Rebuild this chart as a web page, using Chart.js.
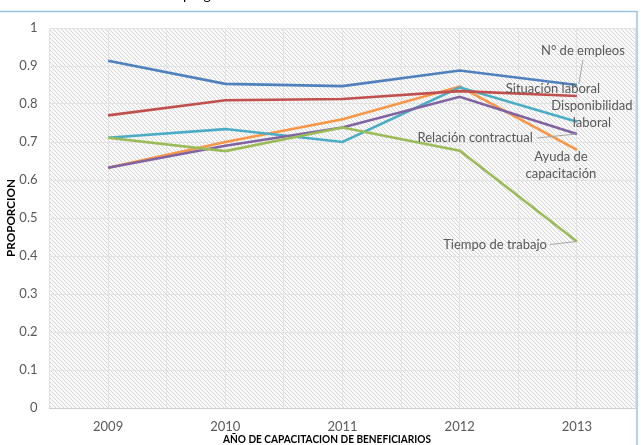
<!DOCTYPE html>
<html>
<head>
<meta charset="utf-8">
<script src="https://cdn.jsdelivr.net/npm/chart.js"></script>
<style>
  html, body { margin: 0; padding: 0; background: #fff; }
  #wrap { position: relative; width: 641px; height: 445px; }
</style>
</head>
<body>
<div id="wrap"><canvas id="chart" width="641" height="445"></canvas></div>
<script>
// Data
const years = ['2009', '2010', '2011', '2012', '2013'];
const empleos = [0.914, 0.853, 0.847, 0.888, 0.85];
const situacion = [0.77, 0.81, 0.813, 0.834, 0.821];
const tiempo = [0.711, 0.676, 0.738, 0.677, 0.438];
const relacion = [0.632, 0.69, 0.738, 0.819, 0.721];
const disponibilidad = [0.711, 0.734, 0.70, 0.844, 0.753];
const ayuda = [0.632, 0.70, 0.76, 0.846, 0.679];
const yTicks = [0, 0.1, 0.2, 0.3, 0.4, 0.5, 0.6, 0.7, 0.8, 0.9, 1];

const FONT = 'Lato, "Open Sans", sans-serif';
const TEXT = '#595959';

// label placement near the 2013 point (offsets in px)
const labelSpecs = {
  'N° de empleos': { lines: ['N° de empleos'], dx: 6, dy: -34, align: 'center', leader: [[6, -25], [2, -1]] },
  'Situación laboral': { lines: ['Situación laboral'], dx: -24, dy: -7, align: 'center' },
  'Disponibilidad laboral': { lines: ['Disponibilidad', 'laboral'], dx: 15, dy: -16, align: 'center' },
  'Relación contractual': { lines: ['Relación contractual'], dx: -44, dy: 4, align: 'right', leader: [[-40, 4], [-1, 0]] },
  'Ayuda de capacitación': { lines: ['Ayuda de', 'capacitación'], dx: -16, dy: 7, align: 'center' },
  'Tiempo de trabajo': { lines: ['Tiempo de trabajo'], dx: -30, dy: 3, align: 'right', leader: [[-27, 3], [-1, 0]] }
};

function hatchPattern(ctx) {
  const c = document.createElement('canvas');
  c.width = 4; c.height = 4;
  const g = c.getContext('2d');
  const img = g.createImageData(4, 4);
  for (let y = 0; y < 4; y++) {
    for (let x = 0; x < 4; x++) {
      const i = (y * 4 + x) * 4;
      const on = ((x - y + 4) % 4) === 0;
      const v = on ? 212 : 250;
      img.data[i] = v; img.data[i + 1] = v; img.data[i + 2] = v; img.data[i + 3] = 255;
    }
  }
  g.putImageData(img, 0, 0);
  return ctx.createPattern(c, 'repeat');
}

const backgroundPlugin = {
  id: 'hatchBg',
  beforeDraw(chart) {
    const { ctx, chartArea: a } = chart;
    ctx.save();
    ctx.fillStyle = '#fff';
    ctx.fillRect(0, 0, chart.width, chart.height);
    ctx.fillStyle = hatchPattern(ctx);
    ctx.fillRect(a.left, a.top, a.right - a.left, a.bottom - a.top);
    // outer chart frame (cropped on left and bottom)
    ctx.strokeStyle = '#9dc3e6';
    ctx.lineWidth = 1.5;
    ctx.strokeRect(-5, 11.5, 642, 450);
    // title remnant cut by the top of the picture
    ctx.fillStyle = '#000';
    ctx.font = '14px ' + FONT;
    ctx.textBaseline = 'alphabetic';
    ctx.textAlign = 'left';
    ctx.fillText('programa', 183, 0);
    ctx.restore();
  }
};

const labelsPlugin = {
  id: 'endLabels',
  afterDatasetsDraw(chart) {
    const { ctx } = chart;
    ctx.save();
    chart.data.datasets.forEach((ds, i) => {
      const spec = labelSpecs[ds.label];
      if (!spec) return;
      const meta = chart.getDatasetMeta(i);
      const pt = meta.data[meta.data.length - 1];
      if (spec.leader) {
        ctx.strokeStyle = '#a6a6a6';
        ctx.lineWidth = 1;
        ctx.beginPath();
        ctx.moveTo(pt.x + spec.leader[0][0], pt.y + spec.leader[0][1]);
        ctx.lineTo(pt.x + spec.leader[1][0], pt.y + spec.leader[1][1]);
        ctx.stroke();
      }
      ctx.fillStyle = TEXT;
      ctx.font = '13px ' + FONT;
      ctx.textAlign = spec.align;
      ctx.textBaseline = 'middle';
      spec.lines.forEach((line, k) => {
        ctx.fillText(line, pt.x + spec.dx, pt.y + spec.dy + k * 16.5);
      });
    });
    // axis titles
    ctx.fillStyle = '#000';
    ctx.font = 'bold 12px ' + FONT;
    ctx.textAlign = 'center';
    ctx.textBaseline = 'middle';
    ctx.fillText('AÑO DE CAPACITACION DE BENEFICIARIOS', 327, 439, 208);
    ctx.translate(11, 218);
    ctx.rotate(-Math.PI / 2);
    ctx.fillText('PROPORCION', 0, 0, 78);
    ctx.restore();
  }
};

function series(label, data, color) {
  return {
    label: label,
    data: data,
    borderColor: color,
    backgroundColor: color,
    borderWidth: 2.6,
    pointRadius: 0,
    tension: 0,
    fill: false
  };
}

new Chart(document.getElementById('chart'), {
  type: 'line',
  data: {
    labels: years,
    datasets: [
      series('N° de empleos', empleos, '#4F81BD'),
      series('Situación laboral', situacion, '#C0504D'),
      series('Tiempo de trabajo', tiempo, '#9BBB59'),
      series('Relación contractual', relacion, '#8064A2'),
      series('Disponibilidad laboral', disponibilidad, '#4BACC6'),
      series('Ayuda de capacitación', ayuda, '#F79646')
    ]
  },
  options: {
    responsive: false,
    animation: false,
    layout: { padding: { top: 28, right: 5.5, left: 0, bottom: 0 } },
    plugins: { legend: { display: false }, tooltip: { enabled: false } },
    scales: {
      x: {
        type: 'category',
        offset: true,
        grid: { offset: false, color: '#e3e3e3', drawTicks: false },
        border: { display: true, color: '#d0d0d0' },
        ticks: { color: TEXT, font: { family: FONT, size: 13 }, padding: 11, maxRotation: 0 },
        afterFit(s) { s.height = 37; }
      },
      x2: {
        type: 'category',
        labels: years,
        position: 'top',
        offset: true,
        grid: { offset: true, color: '#e3e3e3', drawTicks: false },
        border: { display: false },
        ticks: { display: false },
        afterFit(s) { s.height = 0; }
      },
      y: {
        min: 0,
        max: 1,
        afterBuildTicks(s) { s.ticks = yTicks.map(v => ({ value: v })); },
        grid: { color: '#e3e3e3', drawTicks: false },
        border: { display: false },
        ticks: {
          color: TEXT,
          font: { family: FONT, size: 13 },
          padding: 12,
          callback: (v) => String(v)
        },
        afterFit(s) { s.width = 49.5; }
      }
    }
  },
  plugins: [backgroundPlugin, labelsPlugin]
});
</script>
</body>
</html>
